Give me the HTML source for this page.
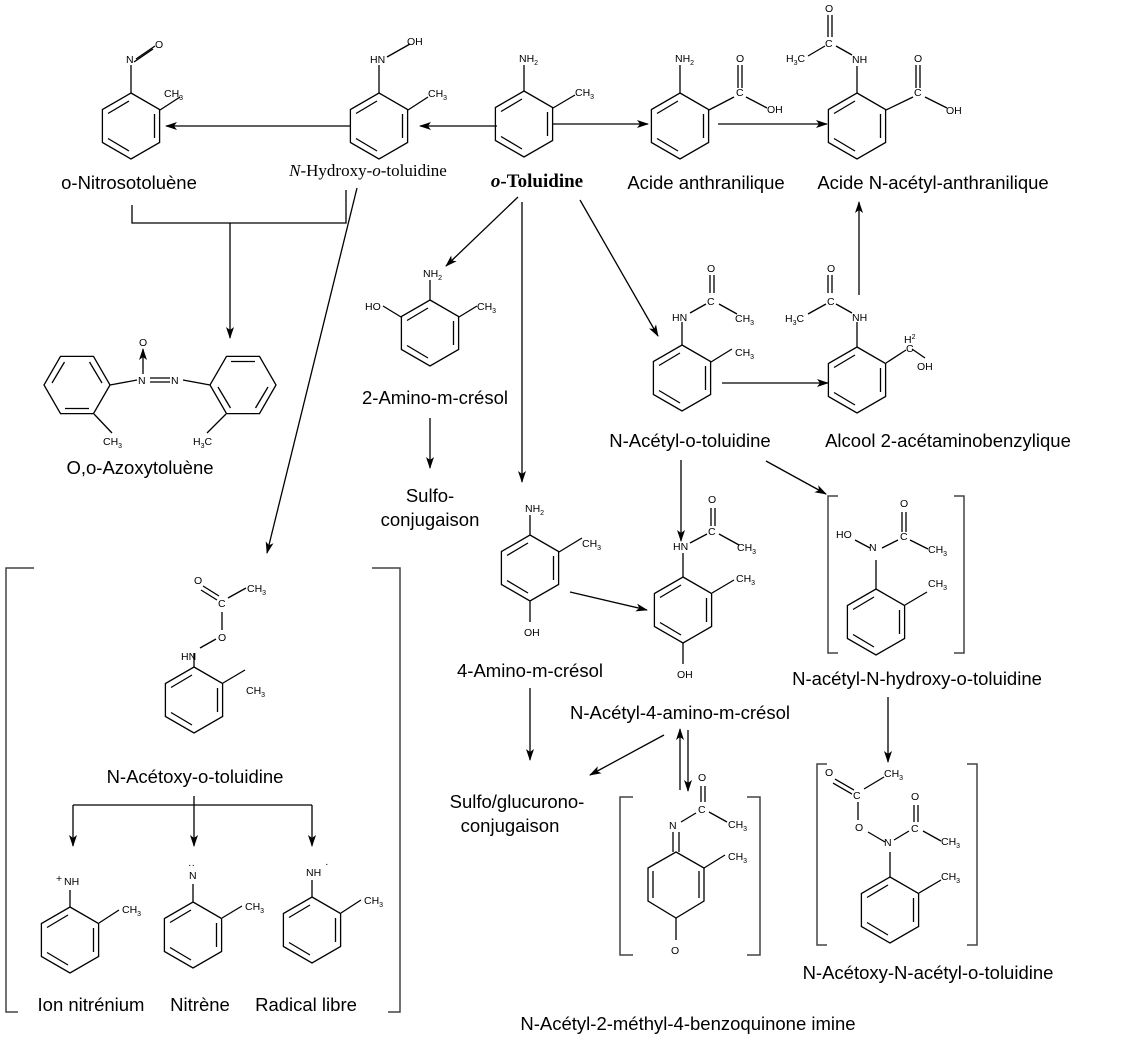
<!DOCTYPE html>
<html><head><meta charset="utf-8"><style>
body{margin:0;background:#fff}
svg{display:block}
.a{font-family:"Liberation Sans",sans-serif;font-size:10.5px;fill:#000}
.s{font-size:7px}
.l{font-family:"Liberation Sans",sans-serif;font-size:18.5px;fill:#000}
</style></head><body>
<svg width="1144" height="1049" viewBox="0 0 1144 1049" xmlns="http://www.w3.org/2000/svg">
<defs>
<marker id="ar" markerWidth="12" markerHeight="10" refX="11" refY="5" orient="auto" markerUnits="userSpaceOnUse">
<path d="M0,1 L12,5 L0,9 L3,5 Z" fill="#000"/></marker>
<g id="r" fill="none" stroke="#000" stroke-width="1.3">
<path d="M0,-33 L28.6,-16.5 L28.6,16.5 L0,33 L-28.6,16.5 L-28.6,-16.5 Z"/>
<path d="M-23,-12.5 L-2,-25 M23.5,-12 L23.5,12 M-23,12.5 L-2,25"/>
</g>
</defs>
<g stroke="#000" stroke-width="1.3" fill="none">
<use href="#r" x="131" y="126"/>
<use href="#r" x="379" y="126"/>
<use href="#r" x="524" y="124"/>
<use href="#r" x="680" y="126"/>
<use href="#r" x="857" y="126"/>
<use href="#r" x="430" y="333"/>
<use href="#r" x="682" y="378"/>
<use href="#r" x="857" y="380"/>
<use href="#r" x="530" y="568"/>
<use href="#r" x="683" y="610"/>
<use href="#r" x="876" y="622"/>
<use href="#r" x="890" y="910"/>
<use href="#r" x="194" y="700"/>
<use href="#r" x="70" y="940"/>
<use href="#r" x="193" y="935"/>
<use href="#r" x="312" y="930"/>
<use href="#r" x="77" y="385" transform="rotate(90 77 385)"/>
<use href="#r" x="243" y="385" transform="rotate(-90 243 385)"/>
<!-- quinone imine ring -->
<path d="M676,852 L704,868 L704,901 L676,918 L648,901 L648,868 Z"/>
<path d="M699,871 L699,898 M653,871 L653,898"/>
<path d="M131,93 L131,65 M136,59 L155,46 M134,62 L153,49 M160,110 L180,97"/>
<path d="M379,93 L379,65 M387,57 L410,44 M408,110 L428,97"/>
<path d="M524,91 L524,65 M553,108 L575,95"/>
<path d="M680,93 L680,65 M709,110 L734,97 M738,88 L738,65 M742,88 L742,65 M746,97 L767,108"/>
<path d="M857,93 L857,66 M852,55 L836,46 M825,46 L808,56 M828,37 L828,15 M832,37 L832,15 M886,110 L913,97 M916,88 L916,65 M920,88 L920,65 M925,97 L947,108"/>
<path d="M430,300 L430,280 M401,317 L383,306 M459,317 L477,306"/>
<path d="M682,345 L682,322 M690,313 L706,304 M710,293 L710,275 M714,293 L714,275 M719,304 L737,314 M711,362 L732,349"/>
<path d="M857,347 L857,322 M852,313 L836,304 M826,304 L808,314 M828,293 L828,275 M832,293 L832,275 M886,363 L906,350 M912,349 L925,358"/>
<path d="M530,535 L530,515 M559,552 L582,538 M530,601 L530,622"/>
<path d="M683,577 L683,553 M690,543 L707,534 M711,526 L711,508 M715,526 L715,508 M719,534 L739,545 M712,593 L734,580 M683,643 L683,664"/>
<path d="M673,852 L673,832 M679,852 L679,832 M681,822 L696,813 M701,802 L701,786 M705,802 L705,786 M709,812 L727,822 M704,868 L725,855 M676,918 L676,940"/>
<path d="M876,589 L876,560 M870,548 L855,540 M882,548 L898,540 M902,532 L902,512 M906,532 L906,512 M910,540 L928,549 M905,605 L927,592"/>
<path d="M890,877 L890,852 M885,842 L868,832 M858,820 L858,802 M852,794 L833,783 M854,790 L835,779 M864,789 L884,777 M894,840 L909,831 M914,822 L914,805 M918,822 L918,805 M923,831 L941,841 M919,893 L941,880"/>
<path d="M194,667 L194,653 M200,648 L216,639 M222,630 L222,612 M217,600 L201,590 M219,596 L203,586 M228,598 L246,588 M223,683 L245,670"/>
<path d="M70,907 L70,890 M99,923 L119,910 M193,902 L193,884 M222,918 L242,906 M312,897 L312,880 M341,913 L361,900"/>
<path d="M110,385 L137,380 M150,378 L170,378 M150,382 L170,382 M183,380 L210,385 M94,414 L112,433 M226,414 L207,433"/>
<line x1="143" y1="374" x2="143" y2="349" marker-end="url(#ar)"/>
<line x1="497" y1="126" x2="420" y2="126" marker-end="url(#ar)"/>
<line x1="350" y1="126" x2="166" y2="126" marker-end="url(#ar)"/>
<line x1="552" y1="124" x2="648" y2="124" marker-end="url(#ar)"/>
<line x1="718" y1="124" x2="827" y2="124" marker-end="url(#ar)"/>
<path d="M132,205 L132,223 L346,223 L346,190"/>
<line x1="230" y1="223" x2="230" y2="338" marker-end="url(#ar)"/>
<line x1="357" y1="188" x2="267" y2="553" marker-end="url(#ar)"/>
<line x1="518" y1="197" x2="446" y2="266" marker-end="url(#ar)"/>
<line x1="522" y1="202" x2="522" y2="482" marker-end="url(#ar)"/>
<line x1="580" y1="200" x2="658" y2="336" marker-end="url(#ar)"/>
<line x1="722" y1="383" x2="828" y2="383" marker-end="url(#ar)"/>
<line x1="859" y1="295" x2="859" y2="202" marker-end="url(#ar)"/>
<line x1="430" y1="418" x2="430" y2="468" marker-end="url(#ar)"/>
<line x1="681" y1="460" x2="681" y2="541" marker-end="url(#ar)"/>
<line x1="766" y1="461" x2="826" y2="494" marker-end="url(#ar)"/>
<line x1="570" y1="592" x2="647" y2="610" marker-end="url(#ar)"/>
<line x1="530" y1="688" x2="530" y2="760" marker-end="url(#ar)"/>
<line x1="664" y1="735" x2="590" y2="775" marker-end="url(#ar)"/>
<line x1="680" y1="790" x2="680" y2="729" marker-end="url(#ar)"/>
<line x1="688" y1="730" x2="688" y2="791" marker-end="url(#ar)"/>
<line x1="888" y1="697" x2="888" y2="762" marker-end="url(#ar)"/>
<path d="M194,796 L194,805 M73,805 L312,805"/>
<line x1="73" y1="805" x2="73" y2="846" marker-end="url(#ar)"/>
<line x1="194" y1="805" x2="194" y2="846" marker-end="url(#ar)"/>
<line x1="312" y1="805" x2="312" y2="846" marker-end="url(#ar)"/>
</g>
<g stroke="#444" stroke-width="1.5" fill="none">
<path d="M34,568 L6,568 L6,1012 L18,1012"/>
<path d="M372,568 L400,568 L400,1012 L388,1012"/>
<path d="M633,797 L620,797 L620,955 L633,955"/>
<path d="M747,797 L760,797 L760,955 L747,955"/>
<path d="M838,496 L828,496 L828,653 L838,653"/>
<path d="M954,496 L964,496 L964,653 L954,653"/>
<path d="M827,764 L817,764 L817,945 L827,945"/>
<path d="M967,764 L977,764 L977,945 L967,945"/>
</g>
<g class="a">
<text x="126" y="63">N</text><text x="155" y="48">O</text><text x="164" y="97">CH<tspan class="s" dy="3">3</tspan></text>
<text x="370" y="63">HN</text><text x="407" y="45">OH</text><text x="428" y="97">CH<tspan class="s" dy="3">3</tspan></text>
<text x="519" y="62">NH<tspan class="s" dy="3">2</tspan></text><text x="575" y="96">CH<tspan class="s" dy="3">3</tspan></text>
<text x="675" y="62">NH<tspan class="s" dy="3">2</tspan></text><text x="736" y="62">O</text><text x="736" y="96">C</text><text x="767" y="113">OH</text>
<text x="825" y="12">O</text><text x="825" y="47">C</text><text x="786" y="62">H<tspan class="s" dy="3">3</tspan><tspan dy="-3">C</tspan></text><text x="852" y="63">NH</text>
<text x="914" y="62">O</text><text x="914" y="96">C</text><text x="946" y="114">OH</text>
<text x="423" y="277">NH<tspan class="s" dy="3">2</tspan></text><text x="365" y="310">HO</text><text x="477" y="310">CH<tspan class="s" dy="3">3</tspan></text>
<text x="139" y="346">O</text><text x="138" y="384">N</text><text x="171" y="384">N</text>
<text x="103" y="445">CH<tspan class="s" dy="3">3</tspan></text><text x="193" y="445">H<tspan class="s" dy="3">3</tspan><tspan dy="-3">C</tspan></text>
<text x="672" y="321">HN</text><text x="707" y="272">O</text><text x="707" y="305">C</text><text x="735" y="322">CH<tspan class="s" dy="3">3</tspan></text><text x="735" y="356">CH<tspan class="s" dy="3">3</tspan></text>
<text x="827" y="272">O</text><text x="827" y="305">C</text><text x="785" y="322">H<tspan class="s" dy="3">3</tspan><tspan dy="-3">C</tspan></text><text x="852" y="321">NH</text>
<text x="904" y="343">H<tspan class="s" dy="-4">2</tspan></text><text x="906" y="352">C</text><text x="917" y="370">OH</text>
<text x="525" y="512">NH<tspan class="s" dy="3">2</tspan></text><text x="582" y="547">CH<tspan class="s" dy="3">3</tspan></text><text x="524" y="636">OH</text>
<text x="673" y="550">HN</text><text x="708" y="503">O</text><text x="708" y="535">C</text><text x="737" y="551">CH<tspan class="s" dy="3">3</tspan></text><text x="736" y="582">CH<tspan class="s" dy="3">3</tspan></text><text x="677" y="678">OH</text>
<text x="698" y="781">O</text><text x="698" y="813">C</text><text x="669" y="829">N</text><text x="728" y="828">CH<tspan class="s" dy="3">3</tspan></text><text x="728" y="860">CH<tspan class="s" dy="3">3</tspan></text><text x="671" y="954">O</text>
<text x="836" y="538">HO</text><text x="869" y="551">N</text><text x="900" y="507">O</text><text x="900" y="540">C</text><text x="928" y="553">CH<tspan class="s" dy="3">3</tspan></text><text x="928" y="587">CH<tspan class="s" dy="3">3</tspan></text>
<text x="825" y="776">O</text><text x="853" y="799">C</text><text x="884" y="777">CH<tspan class="s" dy="3">3</tspan></text><text x="855" y="831">O</text><text x="884" y="846">N</text>
<text x="911" y="800">O</text><text x="911" y="832">C</text><text x="941" y="845">CH<tspan class="s" dy="3">3</tspan></text><text x="941" y="880">CH<tspan class="s" dy="3">3</tspan></text>
<text x="194" y="584">O</text><text x="218" y="607">C</text><text x="247" y="592">CH<tspan class="s" dy="3">3</tspan></text><text x="218" y="641">O</text><text x="181" y="660">HN</text><text x="246" y="694">CH<tspan class="s" dy="3">3</tspan></text>
<text x="56" y="882">+</text><text x="64" y="885">NH</text><text x="122" y="913">CH<tspan class="s" dy="3">3</tspan></text>
<text x="189" y="879">N</text><text x="188" y="868">··</text><text x="245" y="910">CH<tspan class="s" dy="3">3</tspan></text>
<text x="306" y="876">NH</text><text x="325" y="867">·</text><text x="364" y="904">CH<tspan class="s" dy="3">3</tspan></text>
</g>
<g class="l" text-anchor="middle">
<text x="129" y="189">o-Nitrosotoluène</text>
<text x="368" y="176" style="font-family:'Liberation Serif',serif;font-size:17px"><tspan font-style="italic">N</tspan>-Hydroxy-<tspan font-style="italic">o</tspan>-toluidine</text>
<text x="537" y="187" style="font-family:'Liberation Serif',serif;font-size:19px;font-weight:bold"><tspan font-style="italic">o</tspan>-Toluidine</text>
<text x="706" y="189">Acide anthranilique</text>
<text x="933" y="189">Acide N-acétyl-anthranilique</text>
<text x="140" y="474">O,o-Azoxytoluène</text>
<text x="435" y="404">2-Amino-m-crésol</text>
<text x="430" y="502">Sulfo-</text>
<text x="430" y="526">conjugaison</text>
<text x="690" y="447">N-Acétyl-o-toluidine</text>
<text x="948" y="447">Alcool 2-acétaminobenzylique</text>
<text x="530" y="677">4-Amino-m-crésol</text>
<text x="680" y="719">N-Acétyl-4-amino-m-crésol</text>
<text x="917" y="685">N-acétyl-N-hydroxy-o-toluidine</text>
<text x="517" y="808">Sulfo/glucurono-</text>
<text x="510" y="832">conjugaison</text>
<text x="928" y="979">N-Acétoxy-N-acétyl-o-toluidine</text>
<text x="688" y="1030">N-Acétyl-2-méthyl-4-benzoquinone imine</text>
<text x="195" y="783">N-Acétoxy-o-toluidine</text>
<text x="91" y="1011">Ion nitrénium</text>
<text x="200" y="1011">Nitrène</text>
<text x="306" y="1011">Radical libre</text>
</g>
</svg>
</body></html>
